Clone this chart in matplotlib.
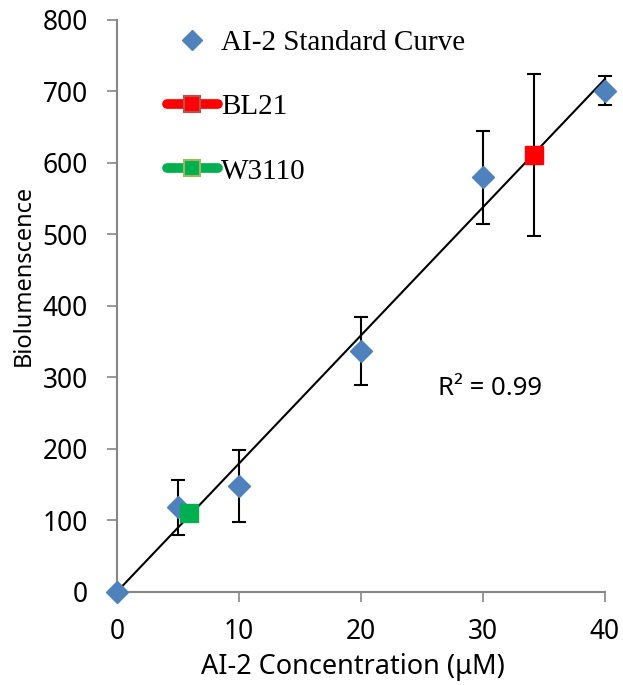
import numpy as np
import matplotlib.pyplot as plt
from matplotlib.lines import Line2D

plt.rcParams["font.family"] = ["Noto Sans", "DejaVu Sans"]

# standard curve data
conc = [0, 5, 10, 20, 30, 40]
lum = [0, 118, 148, 337, 580, 701]
lum_err = [0, 38, 50, 48, 65, 20]

# strain samples
bl21_x, bl21_y, bl21_err = [34.2], [611], [113]
w3110_x, w3110_y = [5.9], [110]

blue = "#4F81BD"
red = "#FF0000"
green = "#00B050"
grey = "#868686"

fig = plt.figure(figsize=(6.23, 6.85), dpi=100)
ax = fig.add_axes([0.188, 0.136, 0.783, 0.835])

# linear fit through the standard points
slope, icpt = np.polyfit(conc, lum, 1)
xs = np.array([0, 40])
ax.plot(xs, slope * xs + icpt, color="black", lw=1.5, zorder=2)

ax.errorbar(conc, lum, yerr=lum_err, fmt="none", ecolor="black",
            elinewidth=1.5, capsize=5, capthick=1.5, zorder=1)
ax.plot(conc, lum, "D", color=blue, ms=11, mec=blue, zorder=3)

ax.errorbar(bl21_x, bl21_y, yerr=bl21_err, fmt="none", ecolor="black",
            elinewidth=1.5, capsize=5, capthick=1.5, zorder=1)
ax.plot(bl21_x, bl21_y, "s", color=red, ms=13, mec=red, zorder=3)
ax.plot(w3110_x, w3110_y, "s", color=green, ms=13, mec=green, zorder=3)

ax.text(26.3, 275, "R² = 0.99", fontsize=18.5, va="baseline", ha="left")

ax.set_xlim(0, 40)
ax.set_ylim(0, 800)
ax.set_xticks([0, 10, 20, 30, 40])
ax.set_yticks(range(0, 801, 100))
for a in ax.get_children():
    if hasattr(a, "set_clip_on"):
        a.set_clip_on(False)

for s in ["top", "right"]:
    ax.spines[s].set_visible(False)
for s in ["left", "bottom"]:
    ax.spines[s].set_color(grey)
    ax.spines[s].set_linewidth(1.5)
ax.tick_params(axis="both", colors=grey, labelcolor="black", labelsize=19,
               length=7, width=1.2, direction="out")
ax.tick_params(axis="x", pad=12)
ax.tick_params(axis="y", pad=14)

ax.set_xlabel("AI-2 Concentration (μM)", fontsize=19.5)
ax.set_ylabel("Biolumenscence", fontsize=17)
ax.xaxis.set_label_coords(0.484, -0.107)
ax.yaxis.set_label_coords(-0.167, 0.553)

handles = [
    Line2D([], [], ls="none", marker="D", color=blue, ms=10),
    Line2D([], [], color=red, lw=7, solid_capstyle="round", marker="s",
           ms=12, mfc=red, mec="#C0504D", mew=1.5),
    Line2D([], [], color=green, lw=7, solid_capstyle="round", marker="s",
           ms=12, mfc=green, mec="#9BBB59", mew=1.5),
]
labels = ["AI-2 Standard Curve", "BL21", "W3110"]
ax.legend(handles, labels, loc="upper left", bbox_to_anchor=(152 / 623, 1 - 15 / 685),
          bbox_transform=fig.transFigure, frameon=False,
          prop={"family": "Liberation Serif", "size": 21},
          handlelength=1.75, handletextpad=0.12, labelspacing=1.3, borderpad=0)

fig.savefig("out.png", dpi=100)
